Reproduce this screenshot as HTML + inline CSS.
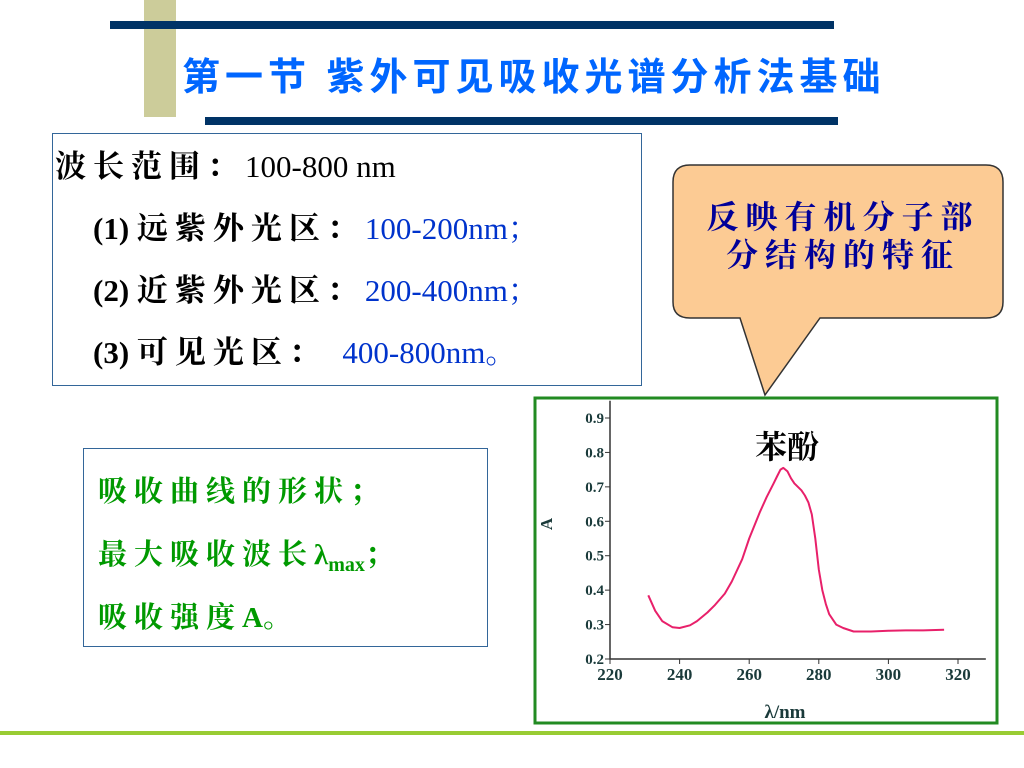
<!DOCTYPE html>
<html><head><meta charset="utf-8"><style>
body{margin:0;width:1024px;height:768px;background:#fff;position:relative;overflow:hidden;font-family:"Liberation Serif","Noto Serif CJK SC",serif}
.abs{position:absolute}
.c{letter-spacing:7px}
</style></head><body>
<div class="abs" style="left:144px;top:0;width:32px;height:117px;background:#cccc9a"></div>
<div class="abs" style="left:110px;top:21px;width:724px;height:8px;background:#003366"></div>
<div class="abs" style="left:205px;top:117px;width:633px;height:8px;background:#003366"></div>
<div class="abs" style="left:182px;top:46px;font:bold 38px 'Liberation Sans','Noto Sans CJK SC',sans-serif;letter-spacing:5px;color:#0066ff;white-space:nowrap">第一节&nbsp;紫外可见吸收光谱分析法基础</div>

<div class="abs" style="left:52px;top:133px;width:588px;height:251px;border:1px solid #336699;font-size:31px;line-height:62px">
<div style="position:absolute;left:2px;top:2px;white-space:nowrap"><b class="c">波长范围：</b>100-800 nm</div>
<div style="position:absolute;left:40px;top:64px;white-space:nowrap"><b>(1) </b><b class="c">远紫外光区：</b><span style="color:#0033cc">100-200nm；</span></div>
<div style="position:absolute;left:40px;top:126px;white-space:nowrap"><b>(2) </b><b class="c">近紫外光区：</b><span style="color:#0033cc">200-400nm；</span></div>
<div style="position:absolute;left:40px;top:188px;white-space:nowrap"><b>(3) </b><b class="c">可见光区：</b>&nbsp;&nbsp;<span style="color:#0033cc">400-800nm。</span></div>
</div>

<svg class="abs" style="left:0;top:0" width="1024" height="768">
<path d="M690,165 H986 Q1003,165 1003,182 V302 Q1003,318 986,318 H820 L765,395 L740,318 H690 Q673,318 673,302 V182 Q673,165 690,165 Z" fill="#fccb94" stroke="#333" stroke-width="1.5"/>
</svg>
<div class="abs" style="left:678px;top:198px;width:330px;text-align:center;font-size:32px;line-height:38px;color:#000099;letter-spacing:7px;font-weight:bold">反映有机分子部<br>分结构的特征</div>

<div class="abs" style="left:83px;top:448px;width:403px;height:197px;border:1px solid #336699;color:#009900;font-weight:bold;font-size:29px">
<div class="c" style="position:absolute;left:14px;top:20px;white-space:nowrap">吸收曲线的形状；</div>
<div style="position:absolute;left:14px;top:83px;white-space:nowrap"><span class="c">最大吸收波长</span>λ<sub style="font-size:20px">max</sub>；</div>
<div style="position:absolute;left:14px;top:146px;white-space:nowrap"><span class="c">吸收强度</span>A。</div>
</div>

<div class="abs" style="left:0;top:731px;width:1024px;height:4px;background:#99cc33"></div>

<svg class="abs" style="left:0;top:0" width="1024" height="768" id="chart">
<rect x="535" y="398" width="462" height="325" fill="#fff" stroke="#228b22" stroke-width="3"/>
<g id="g"></g>
</svg>
<script>
const xTicks=[220,240,260,280,300,320];
const yTicks=[0.2,0.3,0.4,0.5,0.6,0.7,0.8,0.9];
const wavelengths=[231,233,235,238,240,243,245,248,250,253,255,258,260,263,265,267,268,269,269.8,271,272,273,275,276,277,278,279,280,281,282,283,285,287,290,295,300,305,310,316];
const absorbance=[0.385,0.34,0.31,0.292,0.29,0.298,0.31,0.335,0.355,0.39,0.425,0.49,0.55,0.625,0.67,0.71,0.73,0.75,0.755,0.745,0.725,0.71,0.69,0.675,0.655,0.62,0.55,0.46,0.40,0.36,0.33,0.30,0.29,0.28,0.28,0.282,0.283,0.283,0.285];
const X=v=>610+(v-220)*348/100;
const Y=v=>659-(v-0.2)*241/0.7;
const g=document.getElementById('g');
const NS='http://www.w3.org/2000/svg';
function mk(t,a){const e=document.createElementNS(NS,t);for(const k in a)e.setAttribute(k,a[k]);g.appendChild(e);return e;}
let ax=mk('path',{d:`M${X(220)},${Y(0.95)} V${Y(0.2)} H${X(328)}`,stroke:'#333',fill:'none','stroke-width':1.5});


yTicks.forEach(v=>{
 mk('line',{x1:X(220)-5,x2:X(220),y1:Y(v),y2:Y(v),stroke:'#333'});
 let t=mk('text',{x:X(220)-6,y:Y(v)+5,'text-anchor':'end','font-size':15,'font-weight':'bold',fill:'#1a3a3a','font-family':'Liberation Serif'});
 t.textContent=v.toFixed(1);
 
 
});
xTicks.forEach(v=>{
 mk('line',{x1:X(v),x2:X(v),y1:Y(0.2),y2:Y(0.2)+5,stroke:'#333'});
 let t=mk('text',{x:X(v),y:Y(0.2)+21,'text-anchor':'middle','font-size':17,'font-weight':'bold',fill:'#1a3a3a','font-family':'Liberation Serif'});
 t.textContent=v;
 
 
});
let d=wavelengths.map((w,i)=>(i?'L':'M')+X(w).toFixed(1)+','+Y(absorbance[i]).toFixed(1)).join(' ');
let line=mk('path',{d:d,stroke:'#e8206a',fill:'none','stroke-width':2,'stroke-linejoin':'round'});


let yt=mk('text',{x:552,y:524,'font-size':17,'font-weight':'bold',fill:'#1a3a3a',transform:'rotate(-90 552 524)','text-anchor':'middle','font-family':'Liberation Serif'});
yt.textContent='A';


let xt=mk('text',{x:785,y:718,'font-size':19,'font-weight':'bold',fill:'#1a3a3a','text-anchor':'middle','font-family':'Liberation Serif'});
xt.textContent='λ/nm';


let ct=mk('text',{x:787,y:458,'font-size':32,'font-weight':'bold',fill:'#000','text-anchor':'middle','font-family':'Noto Serif CJK SC, serif'});
ct.textContent='苯酚';


</script>
</body></html>
